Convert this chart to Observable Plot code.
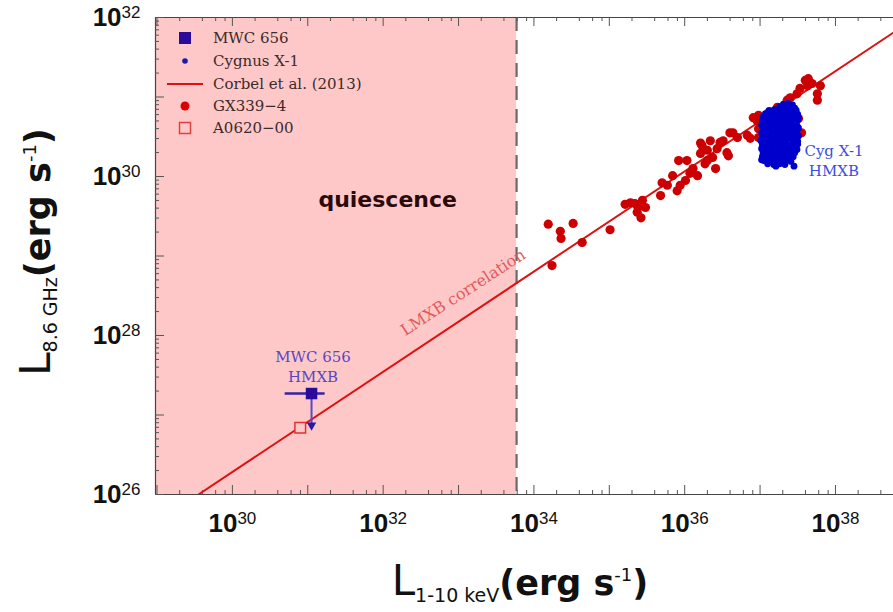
<!DOCTYPE html>
<html><head><meta charset="utf-8">
<script src="https://cdn.jsdelivr.net/npm/d3@7"></script>
<script src="https://cdn.jsdelivr.net/npm/@observablehq/plot@0.6"></script>
<style>
body{margin:0;background:#fff}
#chart{position:relative;width:893px;height:612px}
</style>
</head><body><div id="chart"></div>
<script>
// ---- DATA (log10 values) ----
const xTickExps = [30, 32, 34, 36, 38];
const yTickExps = [26, 28, 30, 32];
const xDecades = [29, 30, 31, 32, 33, 34, 35, 36, 37, 38];
const yDecades = [26, 27, 28, 29, 30, 31, 32];
const xMinorMult = [2, 4, 6, 8];
const yMinorMult = [2, 3, 4, 5, 6, 7, 8, 9];

const quiescenceLogX = 33.77;
const corbelLogX = [29.55, 38.80];
const corbelLogY = [26.00, 31.83];

const a0620LogX = [30.90];
const a0620LogY = [26.84];

const mwcLogX = [31.05];
const mwcLogY = [27.27];
const mwcLogXLo = [30.70];
const mwcLogXHi = [31.23];
const mwcLogYLimit = [26.87];

const gx339 = [
  [34.19,29.40],[34.35,29.31],[34.36,29.22],[34.52,29.41],[34.24,28.88],[34.64,29.17],
  [35.01,29.33],[35.21,29.65],[35.28,29.67],[35.34,29.66],[35.38,29.61],[35.44,29.70],
  [35.48,29.61],[35.42,29.48],[35.37,29.55],[35.68,29.76],[35.70,29.92],[35.77,29.89],
  [35.84,30.01],[35.90,29.82],[35.92,30.20],[36.03,30.20],[35.94,29.89],[36.01,29.95],
  [36.07,30.04],[36.11,30.10],[36.17,30.01],[36.21,30.29],[36.23,30.39],[36.27,30.16],
  [36.30,30.33],[36.34,30.45],[36.37,30.24],[36.41,30.10],[36.43,30.35],[36.47,30.43],
  [36.51,30.45],[36.58,30.26],[36.64,30.55],[36.70,30.49],[36.83,30.52],[36.91,30.74],
  [36.98,30.77],[36.98,30.60],[36.98,30.49],[37.11,30.80],[37.23,30.87],[37.36,30.96],
  [37.40,30.99],[37.51,30.73],[37.49,31.04],[37.53,31.11],[37.60,31.21],[37.64,31.23],
  [37.69,31.17],[37.76,31.04],[37.76,30.96],[37.80,31.14],[37.63,31.14],[36.21,30.42],
  [36.30,30.20],[36.56,30.30],[36.60,30.55],[36.87,30.48],[36.96,30.70],[37.55,30.55]
];

const cygX1 = [
  [37.31,30.91],[37.37,30.92],[37.43,30.90],
  [37.26,30.88],[37.33,30.87],[37.40,30.88],[37.46,30.86],
  [37.12,30.83],[37.19,30.84],[37.27,30.83],[37.34,30.84],[37.41,30.82],[37.48,30.83],
  [37.07,30.79],[37.15,30.80],[37.22,30.78],[37.30,30.80],[37.36,30.79],[37.44,30.80],[37.50,30.78],
  [37.04,30.75],[37.10,30.74],[37.17,30.76],[37.25,30.75],[37.32,30.74],[37.39,30.75],[37.46,30.76],[37.51,30.74],
  [37.03,30.70],[37.09,30.71],[37.16,30.69],[37.23,30.70],[37.29,30.71],[37.37,30.69],[37.43,30.70],[37.50,30.71],
  [37.02,30.65],[37.08,30.64],[37.14,30.66],[37.21,30.65],[37.28,30.64],[37.35,30.66],[37.41,30.65],[37.49,30.64],
  [37.04,30.60],[37.11,30.61],[37.18,30.59],[37.24,30.60],[37.31,30.61],[37.38,30.59],[37.45,30.60],[37.51,30.61],
  [37.02,30.55],[37.07,30.54],[37.15,30.56],[37.22,30.55],[37.30,30.54],[37.36,30.56],[37.42,30.55],[37.49,30.54],
  [37.03,30.50],[37.10,30.51],[37.17,30.49],[37.25,30.50],[37.32,30.51],[37.39,30.49],[37.46,30.50],[37.51,30.51],
  [37.01,30.45],[37.08,30.44],[37.14,30.46],[37.21,30.45],[37.28,30.44],[37.35,30.46],[37.43,30.45],[37.50,30.44],
  [37.03,30.40],[37.10,30.41],[37.18,30.39],[37.24,30.40],[37.31,30.41],[37.38,30.39],[37.45,30.40],[37.50,30.41],
  [37.02,30.35],[37.07,30.34],[37.15,30.36],[37.22,30.35],[37.29,30.34],[37.36,30.36],[37.42,30.35],[37.49,30.34],
  [37.04,30.30],[37.11,30.31],[37.17,30.29],[37.25,30.30],[37.32,30.31],[37.39,30.29],[37.46,30.30],
  [37.03,30.25],[37.09,30.26],[37.16,30.24],[37.23,30.25],[37.30,30.26],[37.37,30.24],[37.44,30.25],
  [37.05,30.20],[37.13,30.21],[37.20,30.19],[37.27,30.20],[37.34,30.21],[37.41,30.19],
  [37.10,30.16],[37.18,30.15],[37.26,30.16],[37.33,30.15],
  [37.45,30.13],[37.02,30.21],[37.21,30.13]
];

const legendLabels = ["MWC 656", "Cygnus X-1", "Corbel et al. (2013)", "GX339\u22124", "A0620\u221200"];
const annotations = [
  {text: "quiescence", logX: 32.06, logY: 29.70},
  {text: "MWC 656\nHMXB", logX: 31.07, logY: 27.62},
  {text: "Cyg X-1\nHMXB", logX: 37.98, logY: 30.21},
  {text: "LMXB correlation", logX: 33.06, logY: 28.54}
];

// ---- LAYOUT ----
const W = 893, H = 612, mL = 155, mT = 17, mB = 118, mR = 0;
const plotW = W - mL - mR, plotH = H - mT - mB;
const xDomain = [10 ** 28.98, 10 ** 38.77];
const yDomain = [1e26, 1e32];
const p = v => 10 ** v;

const xMajor = xDecades.map(p);
const yMajor = yDecades.map(p);
const xMinor = xDecades.flatMap(e => xMinorMult.map(m => m * 10 ** e)).filter(v => v < xDomain[1]);
const yMinor = yDecades.slice(0, -1).flatMap(e => yMinorMult.map(m => m * 10 ** e));
const corbel = corbelLogX.map((x, i) => ({x: p(x), y: p(corbelLogY[i])}));
const mwc = mwcLogX.map((x, i) => ({x: p(x), y: p(mwcLogY[i]), x1: p(mwcLogXLo[i]), x2: p(mwcLogXHi[i]), yl: p(mwcLogYLimit[i])}));
const a0620 = a0620LogX.map((x, i) => ({x: p(x), y: p(a0620LogY[i])}));

const tickColor = "#555";
const serif = "DejaVu Serif";

const chart = Plot.plot({
  width: W, height: H,
  marginLeft: mL, marginTop: mT, marginBottom: mB, marginRight: mR,
  x: {type: "log", domain: xDomain},
  y: {type: "log", domain: yDomain},
  style: {background: "transparent", overflow: "visible"},
  marks: [
    Plot.rect([0], {x1: xDomain[0], x2: p(quiescenceLogX), y1: yDomain[0], y2: yDomain[1], fill: "#ffc8c8"}),
    Plot.ruleX([p(quiescenceLogX)], {stroke: "#6a6a6a", strokeWidth: 2.2, strokeDasharray: "14,9"}),
    // frame
    Plot.ruleY(yDomain, {stroke: "#444", strokeWidth: 1.2}),
    Plot.ruleX([xDomain[0]], {stroke: "#444", strokeWidth: 1.2}),
    // inward ticks
    Plot.tickX(xMajor, {x: d => d, insetTop: plotH - 9, stroke: tickColor}),
    Plot.tickX(xMinor, {x: d => d, insetTop: plotH - 4, stroke: tickColor}),
    Plot.tickX(xMajor, {x: d => d, insetBottom: plotH - 9, stroke: tickColor}),
    Plot.tickX(xMinor, {x: d => d, insetBottom: plotH - 4, stroke: tickColor}),
    Plot.tickY(yMajor, {y: d => d, insetRight: plotW - 9, stroke: tickColor}),
    Plot.tickY(yMinor, {y: d => d, insetRight: plotW - 4, stroke: tickColor}),
    // axes labels
    Plot.axisX(xTickExps.map(p), {tickSize: 0, tickPadding: 19, tickFormat: d => "10^" + Math.round(Math.log10(d)), label: null, fontSize: 26}),
    Plot.axisY(yTickExps.map(p), {tickSize: 0, tickPadding: 15, tickFormat: d => "10^" + Math.round(Math.log10(d)), label: null, fontSize: 26}),
    // Corbel relation
    Plot.line(corbel, {x: "x", y: "y", stroke: "#dd1111", strokeWidth: 2, clip: true}),
    // GX339-4
    Plot.dot(gx339, {x: d => p(d[0]), y: d => p(d[1]), r: 4.6, fill: "#cc0000"}),
    // Cyg X-1
    Plot.dot(cygX1, {x: d => p(d[0]), y: d => p(d[1]), r: 3.4, fill: "#0000cc"}),
    // A0620-00
    Plot.dot(a0620, {x: "x", y: "y", symbol: "square", r: 6, stroke: "#e03030", fill: "#ffc8c8", strokeWidth: 1.5}),
    // MWC 656
    Plot.ruleY(mwc, {y: "y", x1: "x1", x2: "x2", stroke: "#3322aa", strokeWidth: 2.5}),
    Plot.ruleX(mwc, {x: "x", y1: "y", y2: "yl", stroke: "#5a48c8", strokeWidth: 2}),
    Plot.dot(mwc, {x: "x", y: "yl", symbol: "triangle", rotate: 180, r: 3.5, fill: "#2a1aa8"}),
    Plot.dot(mwc, {x: "x", y: "y", symbol: "square", r: 6.5, fill: "#2a0a9a"}),
    // annotations
    Plot.text([annotations[0]], {x: d => p(d.logX), y: d => p(d.logY), text: "text", fontSize: 22, fontWeight: "bold", fontFamily: "DejaVu Sans", fill: "#2b0a0a"}),
    Plot.text([annotations[1]], {x: d => p(d.logX), y: d => p(d.logY), text: "text", fontSize: 15, lineHeight: 1.3, fontFamily: serif, fill: "#5a46c0"}),
    Plot.text([annotations[2]], {x: d => p(d.logX), y: d => p(d.logY), text: "text", fontSize: 15, lineHeight: 1.3, fontFamily: serif, fill: "#3a4ee0"}),
    Plot.text([annotations[3]], {x: d => p(d.logX), y: d => p(d.logY), text: "text", fontSize: 16, rotate: -33, fontFamily: serif, fill: "#e05a5a"})
  ]
});

document.getElementById("chart").appendChild(chart);
const svg = d3.select(chart);

// superscript tick labels
svg.selectAll('g[aria-label="x-axis tick label"] text, g[aria-label="y-axis tick label"] text').each(function () {
  const m = this.textContent.match(/^10\^(-?\d+)$/);
  if (!m) return;
  const t = d3.select(this);
  t.text(null).attr("font-family", "Liberation Sans").attr("fill", "#111");
  t.append("tspan").attr("font-weight", "bold").attr("font-size", 26).text("10");
  t.append("tspan").attr("font-size", 17).attr("dy", -8).text(m[1]);
});

// axis titles
const sans = "DejaVu Sans";
function title(g, sub) {
  const t = g.append("text").attr("text-anchor", "middle").attr("font-family", sans).attr("fill", "#111");
  t.append("tspan").attr("font-size", 42).text("L");
  t.append("tspan").attr("font-size", 19).attr("dy", 7).text(sub);
  t.append("tspan").attr("font-size", 35).attr("font-weight", "bold").attr("dy", -7).text("(erg s");
  t.append("tspan").attr("font-size", 18).attr("dy", -14).text("-1");
  t.append("tspan").attr("font-size", 35).attr("font-weight", "bold").attr("dy", 14).text(")");
}
title(svg.append("g").attr("transform", "translate(520,595)"), "1-10 keV");
title(svg.append("g").attr("transform", "translate(50,252) rotate(-90)"), "8.6 GHz");

// legend
const lg = svg.append("g").attr("font-family", serif).attr("font-size", 15).attr("fill", "#3b2b2b").attr("text-anchor", "start");
const rowY = [38, 61, 84, 106, 128];
legendLabels.forEach((lab, i) => {
  const y = rowY[i];
  const g = lg.append("g").attr("transform", `translate(0,${y})`);
  if (i === 0) g.append("rect").attr("x", 179).attr("y", -6).attr("width", 12).attr("height", 12).attr("fill", "#2a0a9a");
  if (i === 1) g.append("circle").attr("cx", 185).attr("r", 2.8).attr("fill", "#1a1aaa");
  if (i === 2) g.append("line").attr("x1", 167).attr("x2", 203).attr("stroke", "#dd1111").attr("stroke-width", 2);
  if (i === 3) g.append("circle").attr("cx", 185).attr("r", 4.5).attr("fill", "#dd0000");
  if (i === 4) g.append("rect").attr("x", 179.5).attr("y", -5.5).attr("width", 11).attr("height", 11).attr("fill", "none").attr("stroke", "#e04040").attr("stroke-width", 1.5);
  g.append("text").attr("x", 213).attr("y", 5).attr("text-anchor", "start").text(lab);
});
</script>
</body></html>
